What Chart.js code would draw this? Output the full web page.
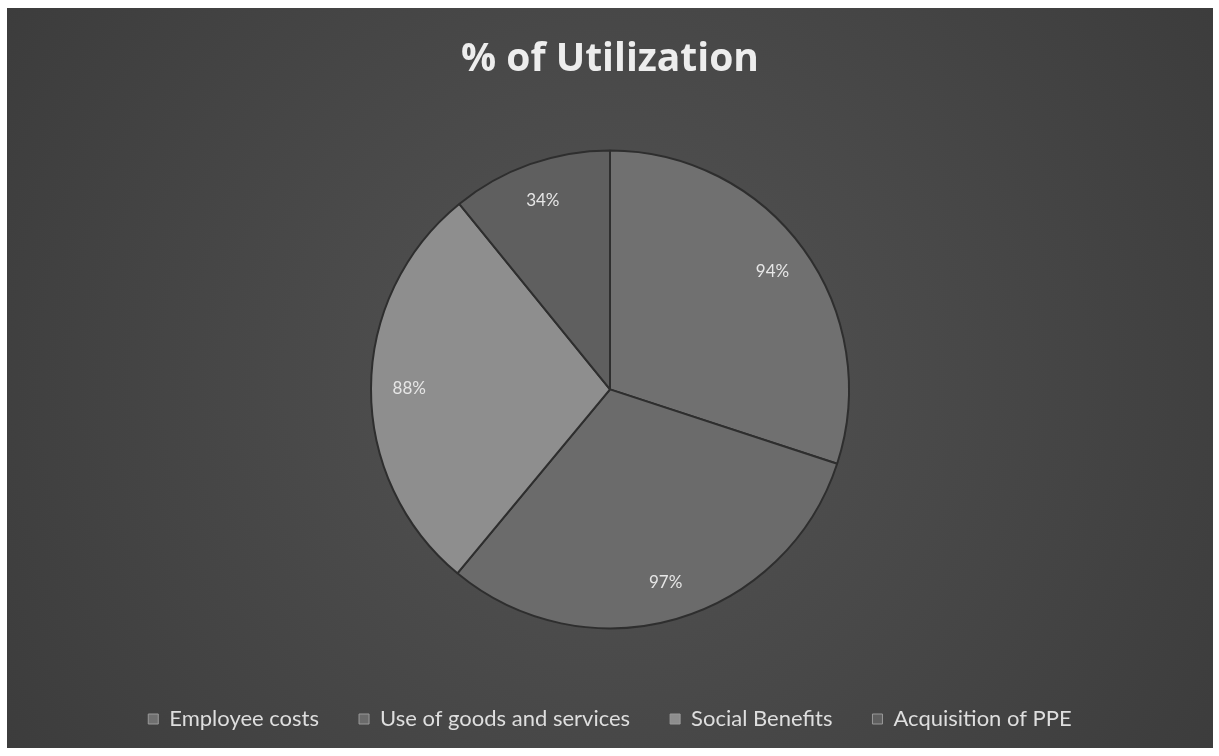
<!DOCTYPE html>
<html>
<head>
<meta charset="utf-8">
<script src="https://cdn.jsdelivr.net/npm/chart.js@4"></script>
<style>
  html, body { margin: 0; padding: 0; background: #fff; }
  #wrap { position: absolute; left: 7px; top: 8px; width: 1206px; height: 740px; }
</style>
</head>
<body>
<div id="wrap"><canvas id="chart"></canvas></div>
<script>
const categories = ["Employee costs", "Use of goods and services", "Social Benefits", "Acquisition of PPE"];
const values = [94, 97, 88, 34];
const labelsText = ["94%", "97%", "88%", "34%"];
const sliceColors = ["#707070", "#6b6b6b", "#8e8e8e", "#5f5f5f"];

const bgPlugin = {
  id: "bg",
  beforeDraw(chart) {
    const { ctx, width, height } = chart;
    const g = ctx.createRadialGradient(width / 2, height / 2, 50, width / 2, height / 2, width * 0.62);
    g.addColorStop(0, "#525252");
    g.addColorStop(1, "#3b3b3b");
    ctx.save();
    ctx.fillStyle = g;
    ctx.fillRect(0, 0, width, height);
    ctx.restore();
  }
};

const sliceLabels = {
  id: "sliceLabels",
  afterDatasetsDraw(chart) {
    const { ctx } = chart;
    const meta = chart.getDatasetMeta(0);
    ctx.save();
    ctx.font = "17px Lato";
    ctx.fillStyle = "#e6e6e6";
    ctx.textAlign = "center";
    ctx.textBaseline = "middle";
    meta.data.forEach((arc, i) => {
      const p = arc.getProps(["x", "y", "startAngle", "endAngle", "outerRadius"], true);
      const mid = (p.startAngle + p.endAngle) / 2;
      const r = p.outerRadius * 0.84;
      ctx.fillText(labelsText[i], p.x + Math.cos(mid) * r, p.y + Math.sin(mid) * r);
    });
    ctx.restore();
  }
};

new Chart(document.getElementById("chart"), {
  type: "pie",
  data: {
    labels: categories,
    datasets: [{
      data: values,
      backgroundColor: sliceColors,
      borderColor: "#2e2e2e",
      borderWidth: 2,
      radius: 239
    }]
  },
  options: {
    responsive: true,
    maintainAspectRatio: false,
    animation: false,
    layout: { padding: { bottom: 8 } },
    plugins: {
      title: {
        display: true,
        text: "% of Utilization",
        color: "#ededed",
        font: { family: "Open Sans", size: 39, weight: "bold" },
        padding: { top: 28, bottom: 28 }
      },
      legend: {
        position: "bottom",
        labels: {
          color: "#dedede",
          font: { family: "Lato", size: 22 },
          boxWidth: 10,
          boxHeight: 10,
          padding: 40,
          generateLabels(chart) {
            return categories.map((c, i) => ({
              text: c,
              fillStyle: sliceColors[i],
              strokeStyle: "#9a9a9a",
              lineWidth: 1,
              fontColor: "#dedede",
              index: i
            }));
          }
        }
      },
      tooltip: { enabled: false }
    }
  },
  plugins: [bgPlugin, sliceLabels]
});
</script>
</body>
</html>
